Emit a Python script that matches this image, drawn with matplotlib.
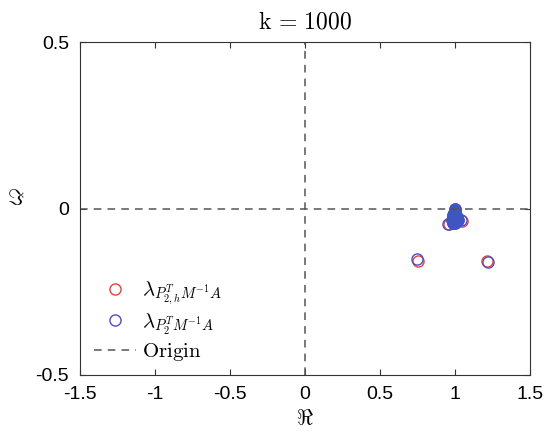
import numpy as np
import matplotlib.pyplot as plt

plt.rcParams['mathtext.fontset'] = 'cm'

# eigenvalues (real, imag) for the two preconditioned operators
re_p2h = [0.755, 1.215, 0.962, 1.045, 1.0, 1.0, 0.995, 1.005, 0.99, 1.01, 1.0]
im_p2h = [-0.157, -0.158, -0.047, -0.038, -0.01, -0.02, -0.03, -0.025, -0.035, -0.032, -0.04]

re_p2 = [0.745, 1.222, 0.955, 1.038, 1.0, 1.0, 0.996, 1.004, 0.99, 1.01, 0.993, 1.007,
         1.0, 0.985, 1.015, 1.0, 0.998, 0.982, 1.018, 0.99, 1.01]
im_p2 = [-0.153, -0.16, -0.045, -0.035, 0.0, -0.006, -0.012, -0.013, -0.02, -0.021,
         -0.03, -0.029, -0.037, -0.027, -0.026, -0.043, -0.016, -0.035, -0.034, -0.042, -0.041]

fig = plt.figure(figsize=(5.49, 4.34), dpi=100)
ax = fig.add_axes([0.146, 0.136, 0.819, 0.767])

ax.plot(re_p2h, im_p2h, 'o', mfc='none', mec='#e0453a', ms=8, mew=1.0,
        label=r'$\lambda_{P_{2,h}^T M^{-1}A}$')
ax.plot(re_p2, im_p2, 'o', mfc='none', mec='#4a4fc4', ms=8, mew=1.0,
        label=r'$\lambda_{P_2^T M^{-1}A}$')
# fill in the dense cluster near 1
ax.plot(re_p2[4:], im_p2[4:], 'o', mfc='#3f55c0', mec='#3f55c0', ms=8)
ax.axhline(0, color='#555555', ls='--', lw=1.1, dashes=(5, 4), label=r'$\mathrm{Origin}$')
ax.axvline(0, color='#555555', ls='--', lw=1.1, dashes=(5, 4))

ax.set_xlim(-1.5, 1.5)
ax.set_ylim(-0.5, 0.5)
ax.set_xticks([-1.5, -1, -0.5, 0, 0.5, 1, 1.5])
ax.set_xticklabels(['-1.5', '-1', '-0.5', '0', '0.5', '1', '1.5'])
ax.set_yticks([-0.5, 0, 0.5])
ax.set_yticklabels(['-0.5', '0', '0.5'])
ax.tick_params(direction='in', top=True, right=True, labelsize=14, length=4,
               color='#333333', pad=8)
for lab in ax.get_xticklabels() + ax.get_yticklabels():
    lab.set_family('Liberation Sans')
for s in ax.spines.values():
    s.set_color('#333333')
    s.set_linewidth(0.8)

ax.set_xlabel(r'$\Re$', fontsize=16, labelpad=4)
ax.set_ylabel(r'$\Im$', fontsize=16, rotation=0, labelpad=14)
ax.set_title(r'$\mathrm{k\,=\,1000}$', fontsize=17, pad=10)

ax.legend(loc='lower left', frameon=False, fontsize=15, handlelength=2.0,
          handletextpad=0.3, labelspacing=0.2, bbox_to_anchor=(-0.01, -0.02))

fig.savefig('out.png', dpi=100)
